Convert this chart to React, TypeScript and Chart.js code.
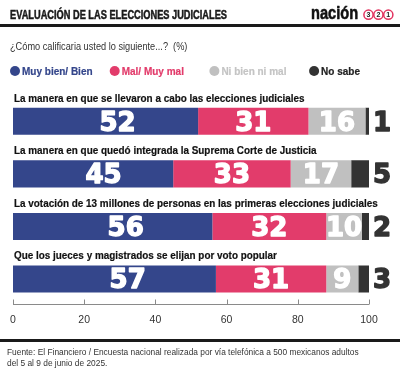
import React, { useEffect, useRef } from "react";
import { Chart, registerables } from "chart.js";
Chart.register(...registerables);

const title = "EVALUACIÓN DE LAS ELECCIONES JUDICIALES";
const subtitle = "¿Cómo calificaria usted lo siguiente...?  (%)";
const sourceLines = [
  "Fuente: El Financiero / Encuesta nacional realizada por vía telefónica a 500 mexicanos adultos",
  "del 5 al 9 de junio de 2025.",
];
const categories = [
  "La manera en que se llevaron a cabo las elecciones judiciales",
  "La manera en que quedó integrada la Suprema Corte de Justicia",
  "La votación de 13 millones de personas en las primeras elecciones judiciales",
  "Que los jueces y magistrados se elijan por voto popular",
];
const seriesNames = ["Muy bien/ Bien", "Mal/ Muy mal", "Ni bien ni mal", "No sabe"];
const muyBien = [52, 45, 56, 57];
const mal = [31, 33, 32, 31];
const niBienNiMal = [16, 17, 10, 9];
const noSabe = [1, 5, 2, 3];
const seriesColors = ["#34468b", "#e23c6b", "#c0c0c0", "#333333"];
const legendTextColors = ["#34468b", "#e23c6b", "#c4c4c4", "#222222"];
const xTickValues = [0, 20, 40, 60, 80, 100];

const SANS = "'Liberation Sans', Arial, sans-serif";
const NUM = "'DejaVu Sans', sans-serif";

function drawText(
  ctx: CanvasRenderingContext2D,
  text: string,
  x: number,
  y: number,
  font: string,
  color: string,
  sx = 1,
  align: CanvasTextAlign = "left",
  stroke = 0
) {
  ctx.save();
  ctx.font = font;
  ctx.fillStyle = color;
  ctx.textBaseline = "alphabetic";
  ctx.textAlign = align;
  ctx.translate(x, y);
  ctx.scale(sx, 1);
  ctx.fillText(text, 0, 0);
  if (stroke > 0) {
    ctx.strokeStyle = color;
    ctx.lineWidth = stroke;
    ctx.lineJoin = "round";
    ctx.strokeText(text, 0, 0);
  }
  ctx.restore();
}

const decorPlugin = {
  id: "decor",
  afterDraw(chart: any) {
    const ctx: CanvasRenderingContext2D = chart.ctx;
    const xScale = chart.scales.x;
    const area = chart.chartArea;

    // header
    drawText(ctx, title, 10, 18.5, `bold 12px ${SANS}`, "#1a1a1a", 0.77, "left", 0.5);
    drawText(ctx, "nación", 311, 19, `bold 19px ${SANS}`, "#111111", 0.77, "left", 0.6);
    const circ = ["3", "2", "1"];
    circ.forEach((d, i) => {
      const cx = 368.5 + i * 9.9;
      const cy = 14.7;
      ctx.save();
      ctx.beginPath();
      ctx.arc(cx, cy, 4.6, 0, Math.PI * 2);
      ctx.strokeStyle = "#e2335f";
      ctx.lineWidth = 1.5;
      ctx.stroke();
      ctx.restore();
      drawText(ctx, d, cx, cy + 2.6, `bold 7px ${SANS}`, "#222222", 1, "center");
    });
    ctx.save();
    ctx.fillStyle = "#1a1a1a";
    ctx.fillRect(0, 24, 400, 3);
    ctx.fillRect(0, 339, 400, 3);
    ctx.restore();

    // subtitle
    drawText(ctx, subtitle, 10, 50, `10px ${SANS}`, "#333333", 0.92);

    // legend
    seriesNames.forEach((name, i) => {
      const cx = 15 + i * 99.7;
      ctx.save();
      ctx.beginPath();
      ctx.arc(cx, 71, 5, 0, Math.PI * 2);
      ctx.fillStyle = seriesColors[i];
      ctx.fill();
      ctx.restore();
      drawText(ctx, name, cx + 7, 74.5, `bold 10px ${SANS}`, legendTextColors[i], 1, "left", 0.2);
    });

    // category labels above bars
    const meta0 = chart.getDatasetMeta(0);
    categories.forEach((c, i) => {
      const el = meta0.data[i];
      const top = el.y - el.height / 2;
      drawText(ctx, c, 14, top - 6, `bold 11px ${SANS}`, "#111111", 0.9, "left", 0.2);
    });

    // axis line and upward ticks
    ctx.save();
    ctx.strokeStyle = "#8a8a8a";
    ctx.lineWidth = 1;
    ctx.beginPath();
    const yb = Math.round(area.bottom) - 0.5;
    ctx.moveTo(xScale.getPixelForValue(0), yb);
    ctx.lineTo(xScale.getPixelForValue(100), yb);
    xScale.ticks.forEach((t: any) => {
      const px = Math.round(xScale.getPixelForValue(t.value)) + 0.5;
      ctx.moveTo(px, yb);
      ctx.lineTo(px, yb - 5);
    });
    ctx.stroke();
    ctx.restore();

    // source
    drawText(ctx, sourceLines[0], 7, 355, `8.8px ${SANS}`, "#333333", 0.95);
    drawText(ctx, sourceLines[1], 7, 365.5, `8.8px ${SANS}`, "#333333", 0.95);
  },
  afterDatasetsDraw(chart: any) {
    const ctx: CanvasRenderingContext2D = chart.ctx;
    const size = 26;
    chart.data.datasets.forEach((ds: any, di: number) => {
      const meta = chart.getDatasetMeta(di);
      meta.data.forEach((el: any, i: number) => {
        const v = ds.data[i];
        const baseY = el.y + (0.729 * size) / 2;
        if (di < 3) {
          const frac = di === 0 ? 0.565 : 0.5;
          const cx = el.base + (el.x - el.base) * frac;
          drawText(ctx, String(v), cx, baseY, `bold ${size}px ${NUM}`, "#ffffff", 1, "center", 1.4);
        } else {
          drawText(ctx, String(v), el.x + 4, baseY, `bold ${size}px ${NUM}`, "#333333", 1, "left", 1.4);
        }
      });
    });
  },
};

export default function App() {
  const ref = useRef<HTMLCanvasElement | null>(null);
  useEffect(() => {
    if (!ref.current) return;
    const values = [muyBien, mal, niBienNiMal, noSabe];
    const chart = new Chart(ref.current, {
      type: "bar",
      data: {
        labels: categories,
        datasets: seriesNames.map((n, i) => ({
          label: n,
          data: values[i],
          backgroundColor: seriesColors[i],
          borderWidth: 0,
          categoryPercentage: 1,
          barPercentage: 0.515,
        })),
      },
      options: {
        indexAxis: "y",
        animation: false,
        responsive: false,
        devicePixelRatio: 1,
        layout: { padding: { left: 13, right: 31, top: 95, bottom: 37.5 } },
        plugins: {
          legend: { display: false },
          title: { display: false },
          tooltip: { enabled: false },
        },
        scales: {
          x: {
            stacked: true,
            min: 0,
            max: 100,
            afterBuildTicks: (axis: any) => {
              axis.ticks = xTickValues.map((v) => ({ value: v }));
            },
            grid: { display: false, drawTicks: false, tickLength: 0 },
            border: { display: false },
            ticks: {
              padding: 8.3,
              color: "#333333",
              font: { family: SANS, size: 10.5 },
            },
          },
          y: {
            stacked: true,
            display: false,
          },
        },
      },
      plugins: [decorPlugin],
    } as any);
    return () => chart.destroy();
  }, []);
  return (
    <div style={{ position: "absolute", left: 0, top: 0, width: 400, height: 372, background: "#fff" }}>
      <canvas ref={ref} width={400} height={372} style={{ width: 400, height: 372 }} />
    </div>
  );
}
